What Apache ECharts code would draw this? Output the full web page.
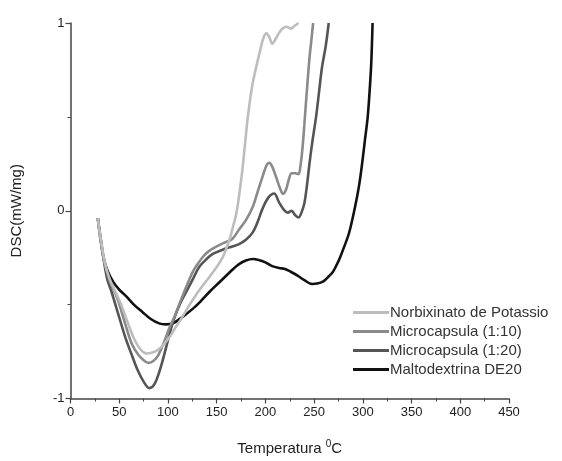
<!DOCTYPE html>
<html>
<head>
<meta charset="utf-8">
<script src="https://cdn.jsdelivr.net/npm/echarts@6/dist/echarts.min.js"></script>
<style>html,body{margin:0;padding:0;background:#fff}#c{width:562px;height:461px}</style>
</head>
<body>
<div id="c"></div>
<script>
const seriesNames = ['Norbixinato de Potassio', 'Microcapsula (1:10)', 'Microcapsula (1:20)', 'Maltodextrina DE20'];
const xTicks = [0, 50, 100, 150, 200, 250, 300, 350, 400, 450];
const yTicks = [-1, 0, 1];

const norbixinato = [
  [28,-0.04],[31,-0.15],[35,-0.27],[40,-0.36],[46,-0.43],[52,-0.50],[59,-0.60],[66,-0.69],[72,-0.74],[78,-0.76],
  [84,-0.755],[90,-0.74],[96,-0.71],[102,-0.67],[108,-0.62],[113,-0.58],[120,-0.52],[126,-0.47],[134,-0.41],[143,-0.35],
  [150,-0.30],[156,-0.25],[160,-0.20],[164,-0.14],[167,-0.08],[170,-0.02],[173,0.08],[176,0.20],[179,0.35],[182,0.50],
  [187,0.68],[194,0.84],[198,0.92],[201,0.945],[204,0.925],[207,0.89],[211,0.92],[215,0.955],[219,0.975],[222,0.98],
  [226,0.97],[230,0.985],[234,1.0]
];
const micro110 = [
  [28,-0.04],[31,-0.16],[35,-0.28],[40,-0.37],[45,-0.43],[49,-0.48],[56,-0.60],[63,-0.71],[70,-0.77],[76,-0.80],
  [80,-0.81],[85,-0.80],[90,-0.77],[96,-0.70],[101,-0.63],[107,-0.56],[113,-0.48],[120,-0.39],[126,-0.32],[131,-0.28],
  [136,-0.245],[142,-0.215],[150,-0.19],[158,-0.17],[166,-0.15],[173,-0.10],[180,-0.05],[187,0.02],[192,0.10],[197,0.18],
  [201,0.24],[204,0.256],[207,0.235],[211,0.18],[215,0.12],[218,0.09],[221,0.11],[224,0.165],[227,0.2],[231,0.2],
  [234,0.195],[236,0.24],[238,0.33],[240,0.46],[242,0.60],[245,0.80],[247,0.90],[249,1.0]
];
const micro120 = [
  [28,-0.04],[31,-0.16],[35,-0.29],[38,-0.37],[42,-0.43],[49,-0.55],[56,-0.67],[63,-0.77],[69,-0.85],[75,-0.91],
  [81,-0.945],[86,-0.925],[91,-0.86],[96,-0.77],[101,-0.67],[106,-0.58],[112,-0.50],[119,-0.43],[126,-0.36],[132,-0.30],
  [139,-0.26],[146,-0.23],[155,-0.21],[166,-0.19],[173,-0.178],[180,-0.155],[187,-0.115],[192,-0.06],[197,0.01],[203,0.07],
  [209,0.092],[214,0.045],[219,0.005],[223,-0.01],[227,0.0],[230,-0.02],[234,-0.036],[237,-0.01],[240,0.04],[243,0.15],
  [245,0.24],[248,0.36],[252,0.50],[255,0.63],[258,0.76],[262,0.88],[265,1.0]
];
const maltodextrina = [
  [28,-0.04],[31,-0.15],[34,-0.25],[38,-0.32],[44,-0.38],[50,-0.42],[57,-0.455],[65,-0.50],[74,-0.54],[82,-0.575],
  [91,-0.60],[98,-0.605],[105,-0.60],[115,-0.565],[126,-0.52],[134,-0.48],[143,-0.43],[152,-0.385],[160,-0.345],[167,-0.31],
  [173,-0.284],[180,-0.265],[187,-0.257],[193,-0.262],[200,-0.275],[207,-0.295],[214,-0.305],[220,-0.31],[226,-0.325],[233,-0.345],
  [240,-0.37],[248,-0.39],[253,-0.388],[259,-0.378],[264,-0.355],[269,-0.328],[273,-0.29],[276,-0.257],[281,-0.19],[286,-0.116],
  [292,0.02],[296,0.13],[299,0.24],[302,0.37],[305,0.50],[307,0.64],[308.5,0.77],[309.3,0.88],[310,1.0]
];

const dataSets = [norbixinato, micro110, micro120, maltodextrina];
const colors = ['#bdbdbd', '#8a8a8a', '#555555', '#111111'];

const chart = echarts.init(document.getElementById('c'), null, {renderer: 'canvas'});
const font = 'Liberation Sans, Arial, sans-serif';
chart.setOption({
  animation: false,
  backgroundColor: '#fff',
  grid: {left: 70.5, right: 53, top: 23, bottom: 61, containLabel: false},
  legend: {
    orient: 'vertical', left: 348, top: 300,
    itemWidth: 36, itemHeight: 3, itemGap: 4,
    textStyle: {fontFamily: font, fontSize: 15, color: '#333', padding: [0,0,0,-4]},
    data: seriesNames.map((n, i) => ({name: n, icon: 'rect', itemStyle: {color: colors[i]}})),
  },
  xAxis: {
    type: 'value', min: xTicks[0], max: xTicks[xTicks.length-1], interval: 50,
    name: 'Temperatura {sup|0}C', nameLocation: 'middle', nameGap: 41,
    nameTextStyle: {fontFamily: font, fontSize: 15, color: '#222',
      rich: {sup: {fontSize: 10, verticalAlign: 'top', padding: [0,0,8,0], fontFamily: font, color: '#222'}}},
    axisLine: {onZero: false, lineStyle: {color: '#444', width: 1.5}},
    axisTick: {inside: false, length: 5, lineStyle: {color: '#444', width: 1.2}},
    minorTick: {show: true, splitNumber: 2, length: 3, lineStyle: {color: '#444', width: 1}},
    axisLabel: {fontFamily: font, fontSize: 13, color: '#222', margin: 7},
    splitLine: {show: false}
  },
  yAxis: {
    type: 'value', min: yTicks[0], max: yTicks[yTicks.length-1], interval: 1,
    name: 'DSC(mW/mg)', nameLocation: 'middle', nameGap: 46, nameRotate: 90,
    nameTextStyle: {fontFamily: font, fontSize: 15, color: '#222'},
    axisLine: {show: true, onZero: false, lineStyle: {color: '#444', width: 1.5}},
    axisTick: {show: true, length: 5, lineStyle: {color: '#444', width: 1.2}},
    minorTick: {show: true, splitNumber: 2, length: 3, lineStyle: {color: '#444', width: 1}},
    axisLabel: {fontFamily: font, fontSize: 13, color: '#222', margin: 6},
    splitLine: {show: false}
  },
  series: seriesNames.map((n, i) => ({
    name: n, type: 'line', data: dataSets[i], symbol: 'none', smooth: 0.35,
    lineStyle: {color: colors[i], width: 2.6}, itemStyle: {color: colors[i]}, z: 2 + (3 - i)
  }))
});
</script>
</body>
</html>
